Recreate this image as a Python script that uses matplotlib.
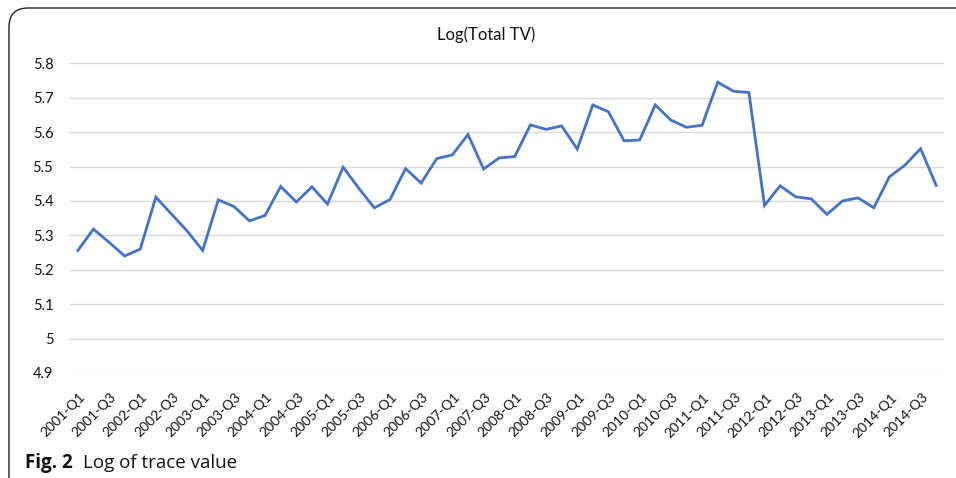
import matplotlib
matplotlib.use("Agg")
import matplotlib.pyplot as plt
from matplotlib.patches import FancyBboxPatch
import matplotlib.transforms as mtransforms

# ---- data ----
years = list(range(2001, 2015))
quarters = ["Q1", "Q2", "Q3", "Q4"]
categories = [f"{y}-{q}" for y in years for q in quarters]
log_total_tv = [
    5.256, 5.318, 5.280, 5.240, 5.260, 5.411, 5.362, 5.313,
    5.256, 5.403, 5.384, 5.342, 5.358, 5.442, 5.397, 5.441,
    5.391, 5.498, 5.437, 5.380, 5.404, 5.494, 5.452, 5.523,
    5.534, 5.593, 5.493, 5.525, 5.529, 5.621, 5.608, 5.618,
    5.551, 5.679, 5.659, 5.575, 5.577, 5.679, 5.635, 5.614,
    5.620, 5.745, 5.719, 5.715, 5.387, 5.444, 5.412, 5.406,
    5.361, 5.400, 5.409, 5.380, 5.470, 5.504, 5.552, 5.445,
]
y_ticks = [4.9, 5.0, 5.1, 5.2, 5.3, 5.4, 5.5, 5.6, 5.7, 5.8]
y_tick_labels = ["4.9", "5", "5.1", "5.2", "5.3", "5.4", "5.5", "5.6", "5.7", "5.8"]
title = "Log(Total TV)"
caption_bold = "Fig. 2"
caption_text = "Log of trace value"

W, H = 956, 478
fig = plt.figure(figsize=(W / 100, H / 100), dpi=100)
fig.patch.set_facecolor("white")

chart_font = ["Lato", "DejaVu Sans"]
cap_font = ["Open Sans", "DejaVu Sans"]

# rounded frame (partly off canvas, like the cropped reference)
frame = FancyBboxPatch((9 / W, -20 / H), 1.2, (H - 8 + 20) / H,
                       boxstyle="round,pad=0,rounding_size=0.02",
                       transform=fig.transFigure, fill=False,
                       edgecolor="#222222", linewidth=1.0, clip_on=False,
                       mutation_aspect=W / H)
fig.patches.append(frame)

left, right, top, bottom = 70, 944, 63.3, 373
ax = fig.add_axes([left / W, 1 - bottom / H, (right - left) / W, (bottom - top) / H])
x = list(range(len(categories)))
ax.plot(x, log_total_tv, color="#4472C4", linewidth=2.0, solid_joinstyle="miter")
ax.set_xlim(-0.5, len(categories) - 0.5)
ax.set_ylim(4.9, 5.8)
ax.set_yticks(y_ticks)
ax.set_yticklabels(y_tick_labels, fontfamily=chart_font, fontsize=10.5, color="#111111")
ax.grid(axis="y", color="#D9D9D9", linewidth=1.0)
ax.set_axisbelow(True)
for s in ax.spines.values():
    s.set_visible(False)
ax.tick_params(axis="y", length=0, pad=12)
ax.tick_params(axis="x", length=0, pad=13)

xt = x[::2]
ax.set_xticks(xt)
labels = ax.set_xticklabels([categories[i] for i in xt], rotation=45, ha="right",
                            va="top", rotation_mode="anchor",
                            fontfamily=chart_font, fontsize=10, color="#111111")
offset = mtransforms.ScaledTranslation(1 / 100, 0, fig.dpi_scale_trans)
for lab in labels:
    lab.set_transform(lab.get_transform() + offset)

fig.text(486 / W, 1 - 35 / H, title, ha="center", va="center",
         fontfamily=chart_font, fontsize=12, color="#111111")

t1 = fig.text(25 / W, 1 - 463 / H, caption_bold, ha="left", va="center",
              fontfamily=cap_font, fontsize=13.5, fontweight="bold", color="#111111")
fig.canvas.draw()
bb = t1.get_window_extent()
fig.text((bb.x1 + 10) / W, 1 - 463 / H, caption_text, ha="left", va="center",
         fontfamily=cap_font, fontsize=13.5, color="#111111")

fig.savefig("out.png", dpi=100, facecolor="white")
